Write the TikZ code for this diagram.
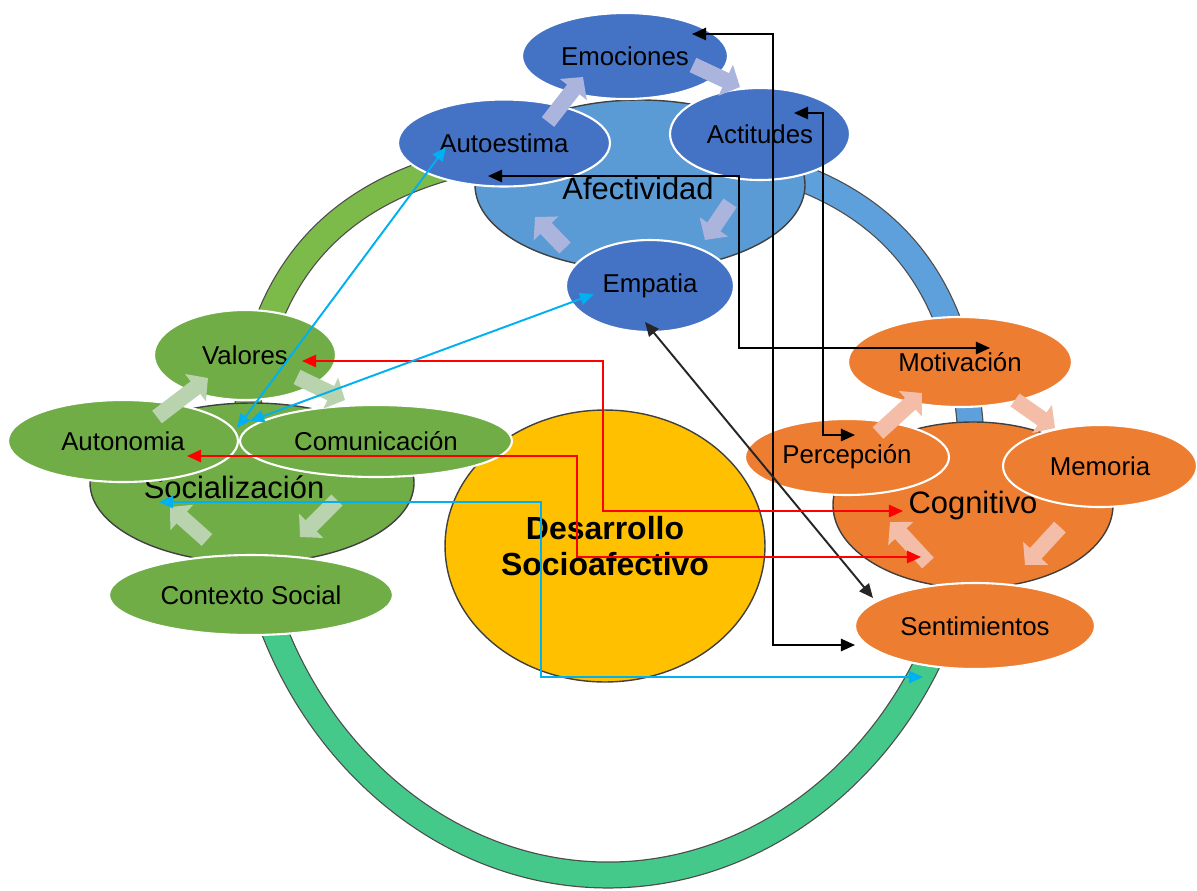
\documentclass[tikz,border=0pt]{standalone}
\usepackage{fontspec}
\setmainfont{Liberation Sans}
\usetikzlibrary{shapes.geometric,arrows.meta}

\definecolor{afblue}{HTML}{4472C4}
\definecolor{afblob}{HTML}{5B9BD5}
\definecolor{afpale}{HTML}{AAB4DC}
\definecolor{sogreen}{HTML}{70AD47}
\definecolor{sopale}{HTML}{B8D3AE}
\definecolor{coorange}{HTML}{ED7D31}
\definecolor{copale}{HTML}{F3BDA8}
\definecolor{coreyellow}{HTML}{FFC000}
\definecolor{ringgreen}{HTML}{7CBB4A}
\definecolor{ringblue}{HTML}{5EA0DC}
\definecolor{ringteal}{HTML}{45C98A}
\definecolor{linkcyan}{HTML}{00B0F0}

\tikzset{
  bubble/.style={ellipse, draw=white, line width=1.2pt, inner sep=0pt,
    font=\fontsize{14.7}{17}\selectfont},
  blu/.style={bubble, fill=afblue},
  grn/.style={bubble, fill=sogreen},
  org/.style={bubble, fill=coorange},
  blob/.style={draw=black!75, line width=0.8pt},
  clustitle/.style={inner sep=0pt, font=\fontsize{17.6}{20}\selectfont},
  ring/.style={draw=black!70, line width=0.7pt, double distance=14pt},
  cyc/.style={line width=9pt, -{Triangle[length=9pt,width=19pt]}},
  lnk/.style={line width=1.1pt, {Triangle[length=8pt,width=7pt]}-{Triangle[length=8pt,width=7pt]}}
}

\begin{document}
\begin{tikzpicture}[x=0.02cm, y=-0.02cm]
  \useasboundingbox (0,0) rectangle (1197,890);

  % ring
  \draw[ring, double=ringteal] (972,470) .. controls (972,693) and (806,875) .. (608,875)
    .. controls (410,875) and (244,693) .. (244,470);
  \draw[ring, double=ringgreen] (244,470) .. controls (244,245) and (366,148) .. (608,148);
  \draw[ring, double=ringblue] (608,148) .. controls (850,148) and (972,245) .. (972,470);

  % centre
  \node[ellipse, draw=black!75, line width=0.8pt, fill=coreyellow, minimum width=6.4cm, minimum height=5.44cm,
    align=center, font=\fontsize{18.2}{20}\selectfont\bfseries] (core) at (605,546) {Desarrollo\\Socioafectivo};

  % Afectividad
  \draw[blob, fill=afblob] (640,185) ellipse [x radius=165, y radius=85];
  \node[clustitle] (afe) at (638,188) {Afectividad};
  \node[blu, minimum width=4.12cm, minimum height=1.72cm] (emo) at (625,56) {Emociones};
  \node[blu, minimum width=4.24cm, minimum height=1.74cm] (aut) at (504,143) {Autoestima};
  \node[blu, minimum width=3.6cm, minimum height=1.84cm] (act) at (760,134) {Actitudes};
  \node[blu, minimum width=3.36cm, minimum height=1.84cm] (emp) at (650,286) {Empatia};
  \draw[cyc, afpale] (548,122) -- (583,77);
  \draw[cyc, afpale] (693,65) -- (740,87);
  \draw[cyc, afpale] (730,203) -- (705,240);
  \draw[cyc, afpale] (565,248) -- (535,217);

  % Socializacion
  \draw[blob, fill=sogreen] (252,483) ellipse [x radius=162, y radius=80];
  \node[clustitle] (soc) at (234,487) {Socialización};
  \node[grn, minimum width=3.64cm, minimum height=1.8cm] (val) at (245,355) {Valores};
  \node[grn, minimum width=4.6cm, minimum height=1.64cm] (ato) at (123,441) {Autonomia};
  \node[grn, minimum width=5.44cm, minimum height=1.44cm] (com) at (376,441) {Comunicación};
  \node[grn, minimum width=5.68cm, minimum height=1.6cm] (ctx) at (251,595) {Contexto Social};
  \draw[cyc, sopale] (157,417) -- (208,378);
  \draw[cyc, sopale] (297,377) -- (345,400);
  \draw[cyc, sopale] (337,500) -- (300,537);
  \draw[cyc, sopale] (207,540) -- (170,507);

  % Cognitivo
  \draw[blob, fill=coorange] (973,505) ellipse [x radius=140, y radius=83];
  \node[clustitle] (cog) at (973,505) {Cognitivo};
  \node[org, minimum width=4.48cm, minimum height=1.8cm] (mot) at (960,362) {Motivación};
  \node[org, minimum width=4.08cm, minimum height=1.52cm] (per) at (847,457) {Percepción};
  \node[org, minimum width=3.88cm, minimum height=1.64cm] (mem) at (1100,466) {Memoria};
  \node[org, minimum width=4.8cm, minimum height=1.72cm] (sen) at (975,626) {Sentimientos};
  \draw[cyc, copale] (878,433) -- (922,393);
  \draw[cyc, copale] (1015,400) -- (1055,428);
  \draw[cyc, copale] (1060,527) -- (1025,565);
  \draw[cyc, copale] (928,563) -- (890,522);

  % link ends
  \coordinate (emo-t) at (692,34);
  \coordinate (sen-t) at (855,645);
  \coordinate (act-t) at (794,113);
  \coordinate (per-t) at (855,435);
  \coordinate (aut-t) at (488,176);
  \coordinate (mot-t) at (990,348);
  \coordinate (emp-t) at (645,322);
  \coordinate (sen-t2) at (873,598);
  \coordinate (val-t) at (302,361);
  \coordinate (cog-t) at (903,511);
  \coordinate (ato-t) at (187,456);
  \coordinate (cog-t2) at (921,557);
  \coordinate (aut-t2) at (446,147);
  \coordinate (ato-t2) at (237,428);
  \coordinate (emp-t2) at (594,294);
  \coordinate (com-t) at (250,421);
  \coordinate (soc-t) at (159,502);
  \coordinate (ring-t) at (923,677);

  \draw[lnk] (emo-t) -- (773,34) -- (773,645) -- (sen-t);
  \draw[lnk] (act-t) -- (823,113) -- (823,435) -- (per-t);
  \draw[lnk] (aut-t) -- (739,176) -- (739,348) -- (mot-t);
  \draw[lnk, black!85] (emp-t) -- (sen-t2);
  \draw[lnk, red] (val-t) -- (603,361) -- (603,511) -- (cog-t);
  \draw[lnk, red] (ato-t) -- (577,456) -- (577,557) -- (cog-t2);
  \draw[lnk, linkcyan] (aut-t2) -- (ato-t2);
  \draw[lnk, linkcyan] (emp-t2) -- (com-t);
  \draw[lnk, linkcyan] (soc-t) -- (541,502) -- (541,677) -- (ring-t);
\end{tikzpicture}
\end{document}
